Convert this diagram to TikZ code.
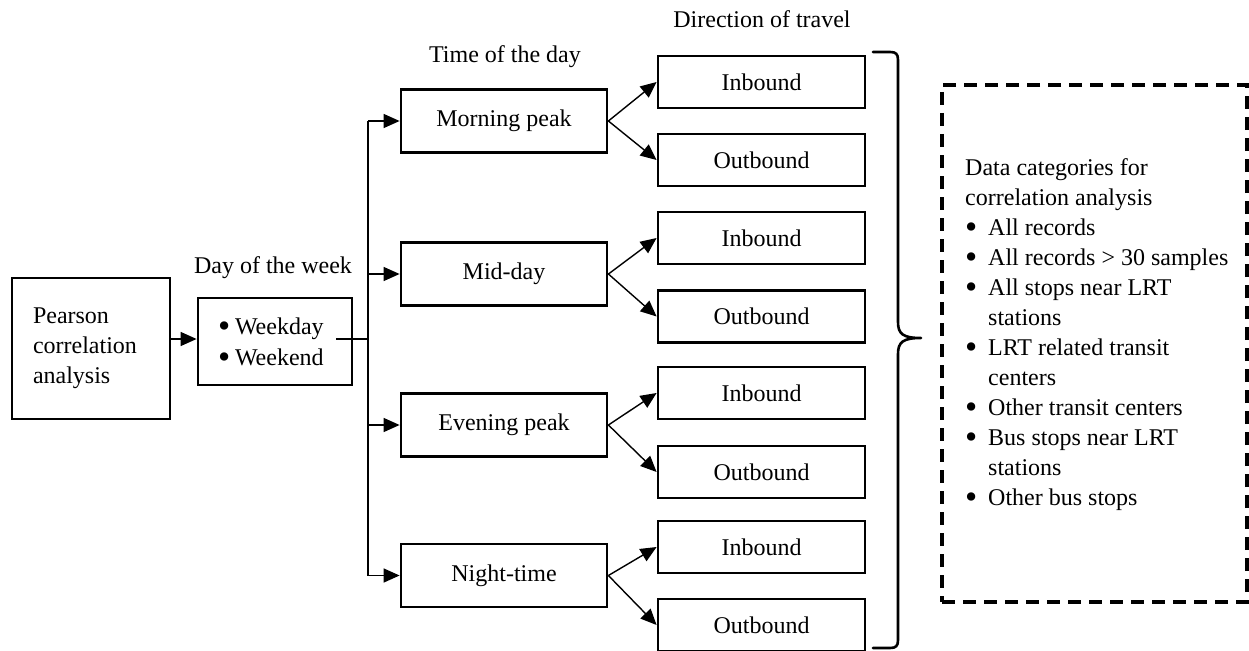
\documentclass[tikz,border=0pt]{standalone}
\usepackage{fontspec}
\setmainfont{Liberation Serif}
\usetikzlibrary{arrows.meta}
\newcommand{\bigbul}{\raisebox{-3.6pt}[0pt][0pt]{\scalebox{1.45}{\textbullet}}}
\newcommand{\catbul}{\makebox[23pt][l]{\bigbul}}
\newcommand{\catind}{\hspace*{23pt}}
\newcommand{\daybul}{\makebox[17pt][l]{\bigbul}}
\begin{document}
\begin{tikzpicture}[x=1pt,y=-1pt, font=\fontsize{24}{30}\selectfont,
  box/.style={draw, line width=2.8pt, inner sep=0pt},
  timebox/.style={box, minimum width=206pt, minimum height=63pt},
  dirbox/.style={box, minimum width=207pt, minimum height=52pt},
  arr/.style={line width=1.4pt, -{Triangle[length=16pt,width=14pt]}},
  plain/.style={line width=1.4pt},
  lab/.style={anchor=base, inner sep=0pt},
  bracestyle/.style={line width=2.6pt, line join=round, line cap=round},
  dashbox/.style={draw, line width=4pt, dash pattern=on 13pt off 8pt, minimum width=305pt, minimum height=517pt, inner sep=0pt}
  ]
\useasboundingbox (0,0) rectangle (1249,650);

% main boxes
\node[box, minimum width=158pt, minimum height=141pt, text width=116pt, align=left] (pearson) at (91,348.5) {Pearson\\correlation\\analysis};
\node[box, minimum width=154pt, minimum height=87pt, text width=114pt, align=left] (day) at (275,341.5) {\daybul Weekday\\[1pt]\daybul Weekend};

\node[timebox] (morning) at (504,121) {Morning peak};
\node[timebox] (midday) at (504,274) {Mid-day};
\node[timebox] (evening) at (504,425) {Evening peak};
\node[timebox] (night) at (504,575.5) {Night-time};

\node[dirbox] (in1) at (761.5,82) {Inbound};
\node[dirbox] (out1) at (761.5,160) {Outbound};
\node[dirbox] (in2) at (761.5,238) {Inbound};
\node[dirbox] (out2) at (761.5,316.5) {Outbound};
\node[dirbox] (in3) at (761.5,393) {Inbound};
\node[dirbox] (out3) at (761.5,472) {Outbound};
\node[dirbox] (in4) at (761.5,547) {Inbound};
\node[dirbox] (out4) at (761.5,625) {Outbound};

% titles
\node[lab] (tdow) at (273,273) {Day of the week};
\node[lab] (ttod) at (505,63) {Time of the day};
\node[lab] (tdir) at (762,28) {Direction of travel};

% connectors
\coordinate (junc) at (368,339);
\coordinate (dstart) at (336,339);
\draw[arr] (pearson.east |- junc) -- (day.west |- junc);
\draw[plain] (dstart) -- (junc);
\draw[plain] (junc |- morning.west) -- (junc |- night.west);
\foreach \n in {morning,midday,evening,night}
  \draw[arr] (junc |- \n.west) -- (\n.west);
\draw[arr] (morning.east) -- (in1.west);
\draw[arr] (morning.east) -- (out1.west);
\draw[arr] (midday.east) -- (in2.west);
\draw[arr] (midday.east) -- (out2.west);
\draw[arr] (evening.east) -- (in3.west);
\draw[arr] (evening.east) -- (out3.west);
\draw[arr] (night.east) -- (in4.west);
\draw[arr] (night.east) -- (out4.west);

% brace
\draw[bracestyle] (873,52) -- (890,52) .. controls (896,52) and (898,54) .. (898,60)
  -- (898,322) .. controls (898,334) and (903,338) .. (921,338)
  .. controls (903,338) and (898,342) .. (898,354)
  -- (898,640) .. controls (898,646) and (896,648) .. (890,648) -- (873,648);

% categories box
\node[dashbox] (cats) at (1094.5,343.5) {};
\node[anchor=north west, inner sep=0pt, align=left] (cattext) at (965,158) {Data categories for\\
correlation analysis\\
\catbul All records\\
\catbul All records > 30 samples\\
\catbul All stops near LRT\\
\catind stations\\
\catbul LRT related transit\\
\catind centers\\
\catbul Other transit centers\\
\catbul Bus stops near LRT\\
\catind stations\\
\catbul Other bus stops};
\end{tikzpicture}
\end{document}
